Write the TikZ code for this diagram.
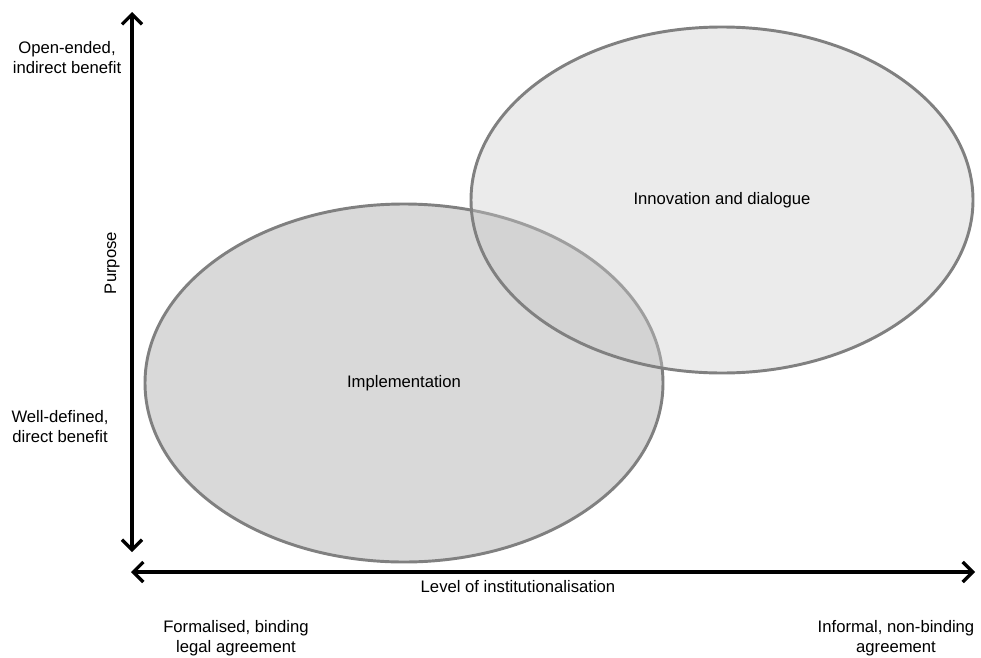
\documentclass[tikz,border=0pt]{standalone}
\usepackage{fontspec}
\setmainfont{Liberation Sans}
\usepackage{tikz}
\usetikzlibrary{shapes.geometric,arrows.meta}
\definecolor{rimgray}{RGB}{128,128,128}
\definecolor{implgray}{RGB}{217,217,217}
\definecolor{innogray}{RGB}{204,204,204}

\begin{document}
\begin{tikzpicture}[x=0.75pt, y=-0.75pt, font=\fontsize{12.5}{15}\selectfont,
  blob/.style={ellipse, draw=rimgray, line width=2.2pt, inner sep=0pt},
  axis/.style={line width=2.5pt, {Straight Barb[length=7.5pt,width=15pt,line width=2.5pt]}-{Straight Barb[length=7.5pt,width=15pt,line width=2.5pt]}},
  lbl/.style={align=center}]
\useasboundingbox (0,0) rectangle (981,657);
% the two areas
\node[blob, fill=implgray, minimum width=388.5pt, minimum height=268.5pt] (impl) at (404,383) {Implementation};
\node[blob, fill=innogray, fill opacity=0.4, text opacity=1, minimum width=376.5pt, minimum height=259.5pt] (inno) at (722,200) {Innovation and dialogue};
% axes
\coordinate (top) at (132,12);
\coordinate (bottom) at (132,552);
\coordinate (left) at (131,572);
\coordinate (right) at (975,572);
\draw[axis] (top) -- (bottom);
\draw[axis] (left) -- (right);
% axis texts
\node[lbl] (open) at (67,58) {Open-ended,\\indirect benefit};
\node[lbl] (well) at (60,427) {Well-defined,\\direct benefit};
\node[rotate=90] (purpose) at (112,263) {Purpose};
\node (level) at (518,587) {Level of institutionalisation};
\node[lbl] (formal) at (236,638) {Formalised, binding\\legal agreement};
\node[lbl] (informal) at (896,638) {Informal, non-binding\\agreement};
\end{tikzpicture}
\end{document}
